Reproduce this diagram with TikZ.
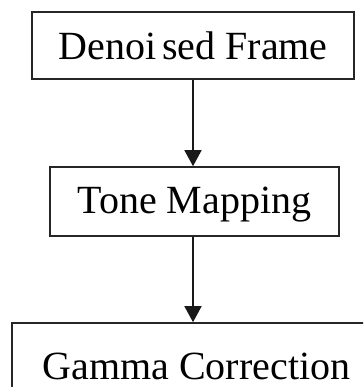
\documentclass[tikz,border=0pt]{standalone}
\usepackage{fontspec}
\setmainfont{Liberation Serif}
\usetikzlibrary{arrows.meta}
\begin{document}
\begin{tikzpicture}[x=1pt,y=1pt,
  stagebox/.style={draw=black!85, line width=1.6pt, fill=white, inner sep=0pt,
    font=\fontsize{40}{48}\selectfont, text depth=0pt},
  flow/.style={draw=black!90, line width=1.5pt, -{Triangle[width=17pt,length=16pt]}}]
  \useasboundingbox (0,0) rectangle (363,-387);
  \clip (0,0) rectangle (363,-387);
  % pipeline stages
  \node[stagebox, minimum width=322pt, minimum height=67pt, text height=29pt]
    (denoised) at (193,-45.5) {Denoi\kern6pt sed Frame};
  \node[stagebox, minimum width=289pt, minimum height=69pt, text height=23pt]
    (tone) at (194.5,-201.5) {Tone Mapping};
  \node[stagebox, minimum width=369pt, minimum height=83pt, text height=29pt]
    (gamma) at (196.5,-364.5) {Gamma Correction};
  % connectors
  \draw[flow] (denoised.south) -- (denoised.south |- tone.north);
  \draw[flow] (denoised.south |- tone.south) -- (denoised.south |- gamma.north);
\end{tikzpicture}
\end{document}
